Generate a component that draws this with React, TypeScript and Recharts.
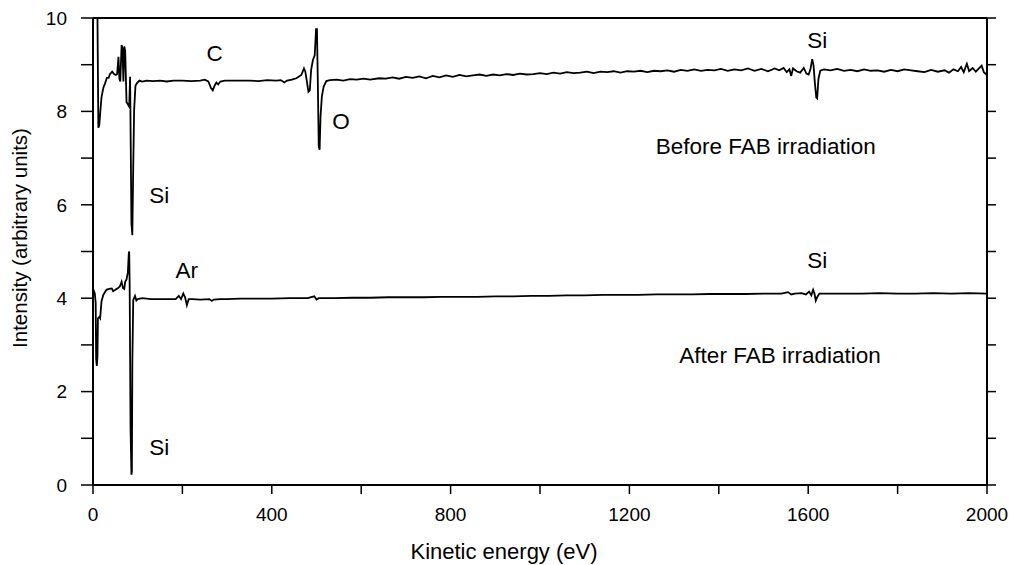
import { LineChart, Line, XAxis, YAxis, ReferenceDot, Label } from 'recharts'

const FONT = '"Liberation Sans", Arial, Helvetica, sans-serif'

// kinetic energy (eV) / intensity, before FAB irradiation
const beforeEnergy = [
  0, 10, 12, 14, 16, 19, 23, 27, 31, 35, 38, 43, 47, 51, 54, 57, 59, 61, 64, 66, 68, 70, 72, 75, 78, 81, 83, 86, 88, 90,
  92, 95, 98, 104, 110, 120, 135, 150, 165, 180, 200, 220, 240, 250, 258, 264, 268, 272, 276, 280, 285, 295, 320, 350,
  370, 390, 410, 420, 428, 434, 445, 455, 466, 472, 475, 478, 482, 485, 488, 492, 496, 499, 501, 503, 505, 507, 509, 512,
  516, 522, 530, 545, 560, 575, 590, 605, 620, 640, 655, 670, 685, 700, 715, 730, 745, 760, 775, 790, 805, 820, 835, 850,
  865, 880, 895, 910, 925, 940, 955, 970, 985, 1000, 1015, 1030, 1045, 1060, 1075, 1090, 1105, 1120, 1135, 1150, 1165,
  1180, 1195, 1210, 1225, 1240, 1255, 1270, 1285, 1300, 1315, 1330, 1345, 1360, 1375, 1390, 1405, 1420, 1435, 1450, 1465,
  1480, 1495, 1510, 1525, 1535, 1545, 1552, 1558, 1562, 1566, 1574, 1582, 1590, 1596, 1601, 1605, 1609, 1612, 1615, 1618,
  1620, 1623, 1627, 1635, 1650, 1665, 1680, 1695, 1710, 1725, 1740, 1755, 1770, 1785, 1800, 1815, 1830, 1845, 1860, 1875,
  1890, 1905, 1915, 1925, 1935, 1942, 1948, 1955, 1960, 1968, 1975, 1982, 1988, 1993, 2000,
]
const beforeIntensity = [
  10, 10, 7.65, 7.7, 7.95, 8.3, 8.5, 8.6, 8.72, 8.72, 8.8, 8.85, 8.8, 8.78, 8.8, 9.17, 8.7, 8.64, 9.42, 9.35, 8.64, 9.39,
  9.3, 8.2, 8.15, 8.1, 8.74, 5.6, 5.35, 6.8, 8.03, 8.55, 8.6, 8.66, 8.64, 8.66, 8.65, 8.66, 8.64, 8.66, 8.66, 8.65, 8.66,
  8.68, 8.64, 8.5, 8.45, 8.55, 8.62, 8.58, 8.64, 8.66, 8.66, 8.66, 8.65, 8.67, 8.66, 8.67, 8.62, 8.66, 8.68, 8.71, 8.78,
  8.92, 8.85, 8.67, 8.42, 8.45, 8.89, 9.1, 9.2, 9.76, 9.76, 8.6, 7.25, 7.18, 7.89, 8.32, 8.53, 8.65, 8.67, 8.68, 8.66,
  8.69, 8.68, 8.7, 8.68, 8.71, 8.7, 8.73, 8.7, 8.74, 8.72, 8.75, 8.71, 8.76, 8.73, 8.77, 8.74, 8.78, 8.75, 8.77, 8.79,
  8.76, 8.79, 8.77, 8.8, 8.78, 8.81, 8.79, 8.8, 8.82, 8.8, 8.83, 8.81, 8.84, 8.82, 8.83, 8.85, 8.82, 8.85, 8.84, 8.86,
  8.83, 8.86, 8.85, 8.87, 8.84, 8.87, 8.86, 8.88, 8.85, 8.89, 8.87, 8.9, 8.87, 8.89, 8.88, 8.91, 8.87, 8.9, 8.88, 8.92,
  8.87, 8.91, 8.86, 8.92, 8.88, 8.93, 8.84, 8.9, 8.76, 8.92, 8.86, 8.83, 8.93, 8.81, 8.79, 8.9, 9.12, 8.98, 8.6, 8.3,
  8.28, 8.7, 8.87, 8.9, 8.88, 8.91, 8.87, 8.89, 8.86, 8.9, 8.87, 8.88, 8.85, 8.89, 8.86, 8.9, 8.88, 8.86, 8.84, 8.89,
  8.85, 8.88, 8.83, 8.9, 8.86, 8.95, 8.84, 9.02, 8.86, 8.93, 8.85, 8.92, 8.98, 8.84, 8.78,
]

// after FAB irradiation
const afterEnergy = [
  0, 4, 6, 7, 8.5, 10, 11, 14, 16, 19, 23, 30, 36, 42, 45, 50, 56, 60, 64, 67, 70, 72, 75, 78, 80, 81, 82, 84, 86, 87,
  88, 90, 94, 97, 100, 110, 130, 150, 170, 185, 192, 197, 202, 206, 210, 214, 222, 240, 260, 266, 270, 285, 300, 330,
  360, 400, 440, 480, 495, 500, 505, 540, 580, 620, 660, 700, 740, 780, 820, 860, 900, 940, 980, 1020, 1060, 1100, 1140,
  1180, 1220, 1260, 1300, 1340, 1380, 1420, 1460, 1500, 1540, 1555, 1562, 1570, 1585, 1595, 1602, 1607, 1611, 1614,
  1617, 1620, 1625, 1640, 1680, 1720, 1760, 1800, 1840, 1880, 1920, 1960, 2000,
]
const afterIntensity = [
  4.2, 4.1, 3.9, 2.7, 2.55, 2.75, 3.57, 3.6, 3.57, 3.93, 4.07, 4.18, 4.2, 4.21, 4.15, 4.18, 4.22, 4.25, 4.35, 4.22, 4.2,
  4.35, 4.4, 4.55, 4.95, 5.0, 4.3, 1.2, 0.22, 0.3, 2.6, 3.96, 4.05, 3.95, 3.98, 4.0, 3.98, 3.98, 3.98, 3.98, 4.05, 3.98,
  4.1, 4.02, 3.85, 3.98, 3.98, 3.97, 3.98, 3.94, 3.97, 3.98, 3.98, 3.99, 3.99, 3.99, 4.0, 4.0, 4.04, 3.97, 4.0, 4.0,
  4.01, 4.01, 4.02, 4.02, 4.02, 4.03, 4.03, 4.03, 4.04, 4.04, 4.05, 4.05, 4.06, 4.06, 4.07, 4.07, 4.07, 4.08, 4.08, 4.08,
  4.09, 4.09, 4.09, 4.1, 4.1, 4.13, 4.08, 4.1, 4.11, 4.08, 4.14, 4.06, 4.18, 4.1, 3.95, 4.02, 4.1, 4.1, 4.1, 4.1, 4.11,
  4.1, 4.1, 4.11, 4.1, 4.11, 4.1,
]

const xTicks = [0, 200, 400, 600, 800, 1000, 1200, 1400, 1600, 1800, 2000]
const xLabels = [0, 400, 800, 1200, 1600, 2000]
const yTicks = [0, 1, 2, 3, 4, 5, 6, 7, 8, 9, 10]
const yLabels = [0, 2, 4, 6, 8, 10]

const notes = [
  { text: 'C', e: 272, v: 9.25 },
  { text: 'O', e: 555, v: 7.8 },
  { text: 'Si', e: 148, v: 6.2 },
  { text: 'Si', e: 1620, v: 9.53 },
  { text: 'Before FAB irradiation', e: 1505, v: 7.25 },
  { text: 'Ar', e: 210, v: 4.6 },
  { text: 'Si', e: 1620, v: 4.82 },
  { text: 'After FAB irradiation', e: 1537, v: 2.78 },
  { text: 'Si', e: 148, v: 0.82 },
]

const beforeData = beforeEnergy.map((e, i) => ({ e, v: beforeIntensity[i] }))
const afterData = afterEnergy.map((e, i) => ({ e, v: afterIntensity[i] }))

const axisLine = { stroke: '#000', strokeWidth: 2 }
const tickLine = { stroke: '#000', strokeWidth: 1.5 }
const tickFont = { fill: '#000', fontSize: 19, fontFamily: FONT }

export default function App() {
  return (
    <div style={{ position: 'absolute', left: 0, top: 0, background: '#fff' }}>
      <LineChart width={1018} height={565} margin={{ top: 0, right: 0, bottom: 0, left: 0 }}>
        <XAxis
          xAxisId="b"
          type="number"
          dataKey="e"
          domain={[0, 2000]}
          ticks={xTicks}
          tickFormatter={(t: number) => (xLabels.includes(t) ? String(t) : '')}
          height={80}
          tickSize={9}
          tickMargin={14}
          axisLine={axisLine}
          tickLine={tickLine}
          tick={tickFont}
          allowDataOverflow
        >
          <Label
            content={() => (
              <text x={504} y={559} textAnchor="middle" fontSize={22} fontFamily={FONT} fill="#000">
                Kinetic energy (eV)
              </text>
            )}
          />
        </XAxis>
        <XAxis
          xAxisId="t"
          orientation="top"
          type="number"
          domain={[0, 2000]}
          ticks={xTicks}
          tickFormatter={() => ''}
          height={18}
          tickSize={8}
          axisLine={axisLine}
          tickLine={tickLine}
          allowDataOverflow
        />
        <YAxis
          yAxisId="l"
          type="number"
          domain={[0, 10]}
          ticks={yTicks}
          tickFormatter={(t: number) => (yLabels.includes(t) ? String(t) : '')}
          width={93}
          tickSize={12}
          tickMargin={14}
          axisLine={axisLine}
          tickLine={tickLine}
          tick={tickFont}
          allowDataOverflow
        >
          <Label
            content={() => (
              <text
                x={0}
                y={0}
                transform="translate(27 238) rotate(-90)"
                textAnchor="middle"
                fontSize={20.5}
                fontFamily={FONT}
                fill="#000"
              >
                Intensity (arbitrary units)
              </text>
            )}
          />
        </YAxis>
        <YAxis
          yAxisId="r"
          orientation="right"
          type="number"
          domain={[0, 10]}
          ticks={yTicks}
          tickFormatter={() => ''}
          width={31}
          tickSize={9}
          axisLine={axisLine}
          tickLine={tickLine}
          allowDataOverflow
        />
        <Line
          xAxisId="b"
          yAxisId="l"
          data={beforeData}
          dataKey="v"
          type="linear"
          stroke="#000"
          strokeWidth={1.8}
          dot={false}
          isAnimationActive={false}
        />
        <Line
          xAxisId="b"
          yAxisId="l"
          data={afterData}
          dataKey="v"
          type="linear"
          stroke="#000"
          strokeWidth={1.8}
          dot={false}
          isAnimationActive={false}
        />
        {notes.map((n, i) => (
          <ReferenceDot
            key={i}
            xAxisId="b"
            yAxisId="l"
            x={n.e}
            y={n.v}
            r={0}
            fill="none"
            stroke="none"
            label={{ value: n.text, position: 'center', fill: '#000', fontSize: 22.5, fontFamily: FONT }}
          />
        ))}
      </LineChart>
    </div>
  )
}
